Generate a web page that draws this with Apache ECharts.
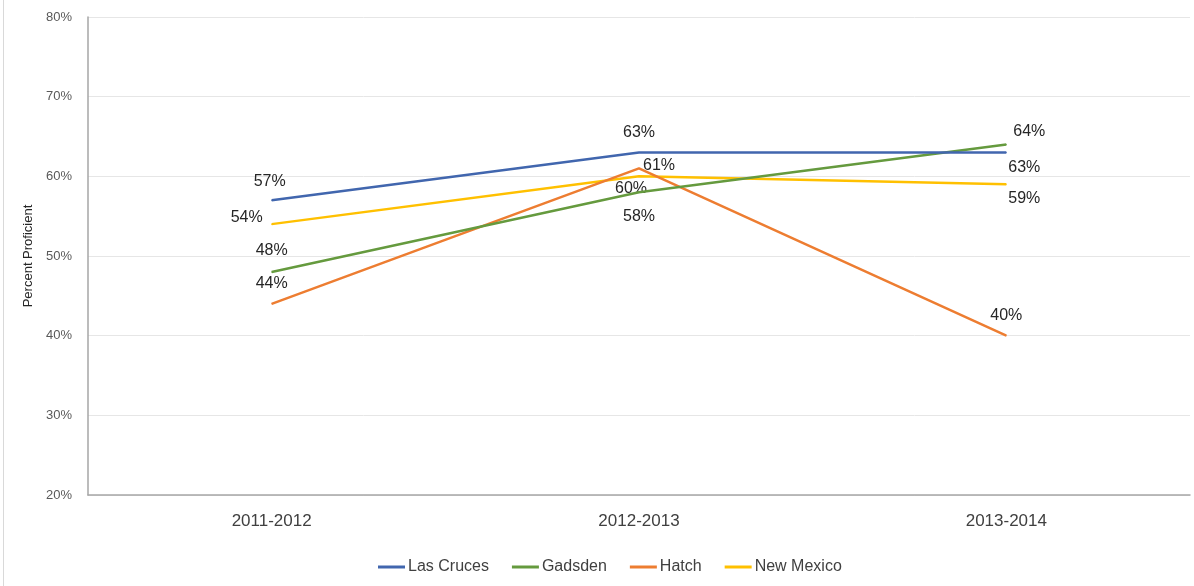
<!DOCTYPE html>
<html><head><meta charset="utf-8">
<script src="https://cdn.jsdelivr.net/npm/echarts@6/dist/echarts.min.js"></script>
<style>html,body{margin:0;padding:0;background:#fff}#c{width:1194px;height:586px}</style>
</head><body><div id="c"></div>
<script>
const categories = ['2011-2012', '2012-2013', '2013-2014'];
const lasCruces = [57, 63, 63];
const gadsden = [48, 58, 64];
const hatch = [44, 61, 40];
const newMexico = [54, 60, 59];
const seriesNames = ['Las Cruces', 'Gadsden', 'Hatch', 'New Mexico'];
const colors = ['#4166AE', '#659A3E', '#ED7D31', '#FFC000'];
// label offsets (px) relative to each point
const offsets = [
  [[-2,-19],[0,-20],[18,15]],
  [[0,-21],[0,24],[23,-13]],
  [[0,-20],[20,-3],[0,-20]],
  [[-25,-7],[-8,12],[18,14]]
];
const values = [lasCruces, gadsden, hatch, newMexico];
const FONT = 'Liberation Sans';
const chart = echarts.init(document.getElementById('c'));
chart.setOption({
  animation: false,
  color: colors,
  textStyle: {fontFamily: FONT},
  grid: {left: 88, right: 4, top: 17, bottom: 91},
  graphic: [{type:'line', shape:{x1:3.5,y1:0,x2:3.5,y2:586}, style:{stroke:'#D9D9D9', lineWidth:1}}],
  legend: {
    left: 373, top: 554,
    itemWidth: 27, itemHeight: 3, itemGap: 23,
    icon: 'rect',
    textStyle: {fontFamily: FONT, fontSize: 16, color: '#404040', padding:[0,0,0,-2]},
    data: seriesNames
  },
  xAxis: {
    type: 'category', data: categories, boundaryGap: true,
    axisLine: {lineStyle: {color: '#A6A6A6', width: 1.5}},
    axisTick: {show: false},
    axisLabel: {fontFamily: FONT, fontSize: 17, color: '#404040', margin: 18}
  },
  yAxis: {
    type: 'value', min: 20, max: 80, interval: 10,
    name: 'Percent Proficient', nameLocation: 'middle', nameGap: 50, nameRotate: 90,
    nameTextStyle: {fontFamily: FONT, fontSize: 13, color: '#262626'},
    axisLine: {show: true, lineStyle: {color: '#A6A6A6', width: 1.5}},
    axisTick: {show: false},
    splitLine: {lineStyle: {color: '#E6E6E6'}},
    axisLabel: {fontFamily: FONT, fontSize: 13, color: '#595959', margin: 16, formatter: v => v + '%'}
  },
  series: seriesNames.map((n, i) => ({
    name: n, type: 'line', symbol: 'circle', symbolSize: 1,
    lineStyle: {width: 2.5, color: colors[i]},
    itemStyle: {color: colors[i]},
    z: 10 - i,
    data: values[i].map((v, j) => ({
      value: v,
      label: {show: true, position: 'inside', offset: offsets[i][j], formatter: v + '%',
        fontFamily: FONT, fontSize: 16, color: '#262626'}
    }))
  }))
});
</script></body></html>
